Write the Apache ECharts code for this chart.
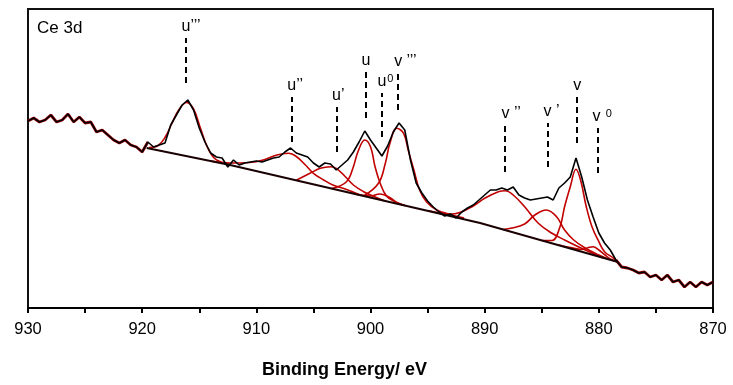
<!DOCTYPE html>
<html>
<head>
<meta charset="utf-8">
<script src="https://cdn.jsdelivr.net/npm/echarts@6/dist/echarts.min.js"></script>
<style>
  html, body { margin: 0; padding: 0; background: #fff; }
  #chart { width: 733px; height: 385px; }
</style>
</head>
<body>
<div id="chart"></div>
<script>
// Ce 3d spectrum (arbitrary intensity units)
const startEnergy = 930;
const energyStep = 0.5;
const counts = [
  187, 190, 186, 188, 193, 186, 188, 194, 186, 191,
  185, 186, 176, 178, 173, 168, 165, 168, 163, 161,
  156, 166, 161, 163, 165, 183, 193, 203, 208, 198,
  180, 166, 155, 151, 150, 141, 148, 143, 145, 146,
  147, 146, 148, 150, 151, 156, 160, 155, 153, 151,
  145, 141, 145, 144, 138, 143, 148, 156, 166, 177,
  168, 160, 152, 162, 176, 185, 178, 148, 125, 115,
  107, 101, 96, 92, 94, 90, 96, 100, 103, 108,
  113, 118, 118, 120, 118, 121, 113, 110, 108, 109,
  110, 111, 108, 120, 125, 131, 150, 131, 108, 91,
  75, 65, 58, 48, 41, 40, 38, 35, 36, 31,
  33, 28, 33, 26, 28, 21, 26, 21, 26, 23,
  26
];

// fitted background and components, [energy, intensity]
const background = [[919.6, 160], [912.3, 143], [890.4, 85], [878.4, 46.3]];
const peakU3 = [[919.4, 160.5], [918.6, 162.5], [918, 170.5], [917.4, 184.5], [916.8, 198], [916.1, 205.5], [915.5, 199], [914.9, 180], [914.3, 161], [913.7, 150], [913, 145.5], [912.4, 143.3]];
const peakU2 = [[914, 147], [912.3, 145], [910.6, 145.5], [909.4, 148], [908.2, 153], [907.2, 154.7], [906.5, 151.5], [905.7, 143], [905, 134.7], [904.1, 128], [903.3, 123], [902.1, 118.5], [901, 113.5]];
const peakU1 = [[906.5, 127.8], [905.3, 134.7], [904.4, 139.7], [903.5, 141.3], [903, 139.7], [902.2, 131.3], [901.5, 123], [900.6, 116.3], [899.8, 112], [898.8, 107.3]];
const peakU = [[903.4, 119.5], [902.1, 126.3], [901.5, 141.3], [901.1, 156.3], [900.5, 168], [900, 161.3], [899.6, 141.3], [899.2, 126.3], [898.6, 112], [897.8, 106], [897, 102.5]];
const peakU0 = [[901.2, 113.6], [900, 112], [899.2, 114], [898.4, 111], [897.6, 105], [897, 102.5]];
const peakV3 = [[900.6, 112], [899.3, 124.7], [898.7, 144.7], [898.3, 164.7], [897.7, 179.7], [897.1, 174.7], [896.7, 158], [896.2, 138], [895.7, 118], [895.1, 106.3], [894.2, 98], [893, 93.5], [891.8, 90]];
const peakV2 = [[895, 97.5], [892.9, 94], [891.1, 101.3], [890, 109.7], [888.8, 116.3], [888.2, 117.3], [887.5, 113], [886.5, 101.3], [885.3, 84.7], [884.1, 74.7], [883, 68], [881.8, 61.3], [880.6, 55], [879.6, 50]];
const peakV1 = [[888.4, 78.5], [887.6, 80], [886.5, 84], [885.6, 93], [884.6, 98], [883.7, 91.3], [883, 78], [882.2, 68], [881.2, 60], [880, 53], [879.2, 49]];
const peakV = [[885, 67.5], [884.1, 67.5], [883.4, 81.3], [883, 101.3], [882.5, 121.3], [882, 138.7], [881.6, 128], [881.1, 101.3], [880.6, 81.3], [880, 66.3], [879.5, 56.3], [878.7, 49.7], [878.4, 46.3]];
const peakV0 = [[883.5, 63], [882.5, 60.5], [881.5, 58.5], [880.9, 60.5], [880.5, 61.3], [880, 58], [879.5, 53.5], [879, 49], [878.4, 46.3]];

// peak markers: label, energy, dashed line bottom and top
const markerLabels = ['{m|u’’’}', '{m|u’’}', '{m|u’}', '{m|u}', '{m|u}{s|0}', '{m|v ’’’}', '{m|v ’’}', '{m|v ’}', '{m|v}', '{m|v }{s|0}'];
const markerEnergy = [916.2, 906.9, 903.0, 900.4, 899.0, 897.6, 888.2, 884.5, 881.9, 880.1];
const markerBottom = [225, 166, 156, 190, 171, 198, 136, 141, 165, 135];
const markerTop = [270, 211, 201, 236, 215, 235, 183, 185, 211, 180];
const markerShift = [11, 7, 4, 0, 7, 15, 12, 8, 0, 9];

const energies = counts.map((_, i) => startEnergy - i * energyStep);
const spectrum = counts.map((c, i) => [energies[i], c]);
const outsideFit = spectrum.map(p => (p[0] >= 919.5 || p[0] <= 878.5) ? p : [p[0], null]);

const FONT = '"Liberation Sans", Arial, sans-serif';
const RED = '#c00000';

const components = [peakU3, peakU2, peakU1, peakU, peakU0, peakV3, peakV2, peakV1, peakV, peakV0];

const chart = echarts.init(document.getElementById('chart'));

chart.setOption({
  animation: false,
  grid: {
    left: 28, right: 20, top: 9, bottom: 77,
    show: true, borderColor: '#111', borderWidth: 2
  },
  xAxis: {
    type: 'value',
    inverse: true,
    min: 870, max: 930, interval: 5,
    axisLine: { lineStyle: { color: '#000', width: 2 } },
    axisTick: { show: true, length: 5, lineStyle: { color: '#000', width: 2 } },
    axisLabel: {
      color: '#000', fontFamily: FONT, fontSize: 16.5, margin: 13,
      formatter: v => (v % 10 === 0 ? String(v) : '')
    },
    splitLine: { show: false }
  },
  yAxis: {
    type: 'value', min: 0, max: 299,
    show: false
  },
  graphic: [
    { type: 'text', left: 37, top: 20, style: { text: 'Ce 3d', font: '17px ' + FONT, fill: '#000' } },
    { type: 'text', left: 262, top: 361, style: { text: 'Binding Energy/ eV', font: 'bold 18px ' + FONT, fill: '#000' } }
  ],
  series: [
    {
      type: 'line', data: outsideFit, symbol: 'none', connectNulls: false,
      lineStyle: { color: '#a00000', width: 2.8 }, z: 1
    },
    ...components.map(c => ({
      type: 'line', data: c, symbol: 'none', smooth: 0.4,
      lineStyle: { color: RED, width: 1.6 }, z: 2
    })),
    {
      type: 'line', data: background, symbol: 'none',
      lineStyle: { color: '#1a0000', width: 2 }, z: 3
    },
    {
      type: 'line', data: spectrum, symbol: 'none',
      lineStyle: { color: '#000', width: 1.6 }, z: 4
    },
    {
      type: 'line', data: [], z: 5,
      markLine: {
        silent: true, symbol: 'none', animation: false,
        lineStyle: { color: '#000', width: 2, type: [6, 4] },
        label: {
          show: true, position: 'end', distance: 3, color: '#000',
          rich: {
            m: { fontFamily: FONT, fontSize: 16, color: '#000' },
            s: { fontFamily: FONT, fontSize: 11, color: '#000', verticalAlign: 'top', padding: [0, 0, 6, 1] }
          }
        },
        data: markerLabels.map((lab, i) => [
          { coord: [markerEnergy[i], markerBottom[i]] },
          { coord: [markerEnergy[i], markerTop[i]],
            label: { formatter: lab, padding: [0, 0, 0, markerShift[i]] } }
        ])
      }
    }
  ]
});
</script>
</body>
</html>
